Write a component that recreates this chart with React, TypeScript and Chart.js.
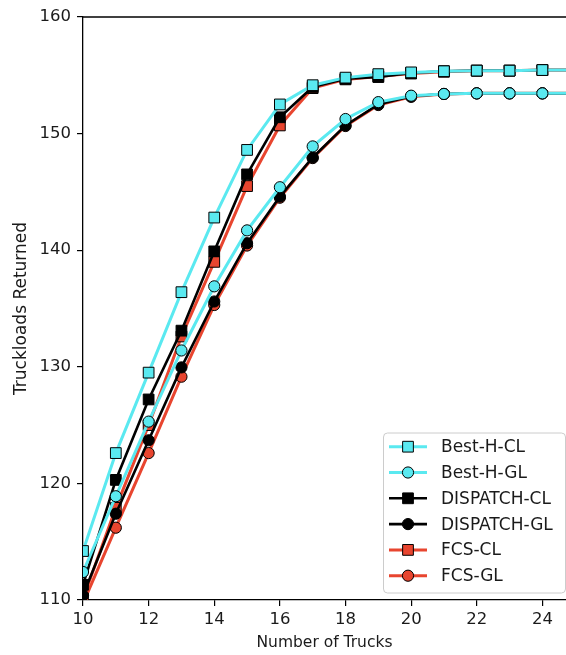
import React, { useEffect, useRef } from 'react';
import { Chart, registerables } from 'chart.js';

Chart.register(...registerables);

// ---- data ----
const trucks = [10, 11, 12, 13, 14, 15, 16, 17, 18, 19, 20, 21, 22, 23, 24, 25];
const bestHCL = [114.2, 122.6, 129.5, 136.4, 142.8, 148.6, 152.5, 154.15, 154.8, 155.1, 155.25, 155.35, 155.4, 155.4, 155.45, 155.45];
const bestHGL = [112.4, 118.9, 125.3, 131.4, 136.9, 141.7, 145.4, 148.9, 151.25, 152.7, 153.25, 153.4, 153.45, 153.45, 153.45, 153.45];
const dispatchCL = [111.3, 120.3, 127.2, 133.1, 139.9, 146.5, 151.4, 154.0, 154.7, 154.85, 155.2, 155.35, 155.4, 155.4, 155.45, 155.45];
const dispatchGL = [110.4, 117.4, 123.7, 129.95, 135.6, 140.6, 144.6, 147.95, 150.7, 152.5, 153.2, 153.4, 153.45, 153.45, 153.45, 153.45];
const fcsCL = [110.1, 117.9, 125.0, 132.6, 139.0, 145.5, 150.7, 153.9, 154.65, 154.9, 155.15, 155.3, 155.4, 155.4, 155.45, 155.45];
const fcsGL = [109.7, 116.2, 122.6, 129.15, 135.3, 140.4, 144.5, 147.9, 150.65, 152.45, 153.15, 153.4, 153.45, 153.45, 153.45, 153.45];
const seriesNames = ['Best-H-CL', 'Best-H-GL', 'DISPATCH-CL', 'DISPATCH-GL', 'FCS-CL', 'FCS-GL'];
const xTitle = 'Number of Trucks';
const yTitle = 'Truckloads Returned';

const CYAN = '#5ae9f0';
const BLACK = '#000000';
const RED = '#e8452f';
const FONT = '"DejaVu Sans", "Liberation Sans", sans-serif';

type Spec = { values: number[]; color: string; style: 'rect' | 'circle'; order: number; width: number };
const specs: Spec[] = [
  { values: bestHCL, color: CYAN, style: 'rect', order: 1, width: 3 },
  { values: bestHGL, color: CYAN, style: 'circle', order: 1, width: 3 },
  { values: dispatchCL, color: BLACK, style: 'rect', order: 2, width: 2.6 },
  { values: dispatchGL, color: BLACK, style: 'circle', order: 2, width: 2.6 },
  { values: fcsCL, color: RED, style: 'rect', order: 3, width: 3 },
  { values: fcsGL, color: RED, style: 'circle', order: 3, width: 3 },
];

const RECT_R = 7.6;
const CIRC_R = 5.6;

function drawMarker(ctx: CanvasRenderingContext2D, style: string, x: number, y: number, fill: string) {
  ctx.save();
  ctx.beginPath();
  if (style === 'rect') {
    const s = Math.SQRT1_2 * RECT_R;
    ctx.rect(x - s, y - s, 2 * s, 2 * s);
  } else {
    ctx.arc(x, y, CIRC_R, 0, Math.PI * 2);
  }
  ctx.fillStyle = fill;
  ctx.fill();
  ctx.lineWidth = 1;
  ctx.strokeStyle = '#000';
  ctx.stroke();
  ctx.restore();
}

const framePlugin = {
  id: 'frameAndLegend',
  afterDraw(chart: any) {
    const ctx: CanvasRenderingContext2D = chart.ctx;
    const { left, right, top } = chart.chartArea;
    // top spine
    ctx.save();
    ctx.strokeStyle = '#000';
    ctx.lineWidth = 1.3;
    ctx.beginPath();
    ctx.moveTo(left, top);
    ctx.lineTo(right, top);
    ctx.stroke();
    ctx.restore();

    // legend box
    const bx = 383.5, by = 433, bw = 182, bh = 160, r = 4;
    ctx.save();
    ctx.beginPath();
    ctx.moveTo(bx + r, by);
    ctx.lineTo(bx + bw - r, by);
    ctx.arcTo(bx + bw, by, bx + bw, by + r, r);
    ctx.lineTo(bx + bw, by + bh - r);
    ctx.arcTo(bx + bw, by + bh, bx + bw - r, by + bh, r);
    ctx.lineTo(bx + r, by + bh);
    ctx.arcTo(bx, by + bh, bx, by + bh - r, r);
    ctx.lineTo(bx, by + r);
    ctx.arcTo(bx, by, bx + r, by, r);
    ctx.closePath();
    ctx.fillStyle = 'rgba(255,255,255,0.85)';
    ctx.fill();
    ctx.strokeStyle = '#cccccc';
    ctx.lineWidth = 1;
    ctx.stroke();
    ctx.restore();

    specs.forEach((s, i) => {
      const cy = 446.7 + i * 25.8;
      ctx.save();
      ctx.strokeStyle = s.color;
      ctx.lineWidth = s.width;
      ctx.beginPath();
      ctx.moveTo(389, cy);
      ctx.lineTo(427, cy);
      ctx.stroke();
      ctx.restore();
      drawMarker(ctx, s.style, 408, cy, s.color);
      ctx.save();
      ctx.fillStyle = '#1a1a1a';
      ctx.font = `17px ${FONT}`;
      ctx.textBaseline = 'middle';
      ctx.textAlign = 'left';
      ctx.fillText(seriesNames[i], 441, cy + 1);
      ctx.restore();
    });
  },
};

export default function App() {
  const ref = useRef<HTMLCanvasElement | null>(null);

  useEffect(() => {
    document.body.style.margin = '0';
    const canvas = ref.current;
    if (!canvas) return;
    const chart = new Chart(canvas, {
      type: 'line',
      data: {
        datasets: specs.map((s, i) => ({
          label: seriesNames[i],
          data: trucks.map((x, j) => ({ x, y: s.values[j] })),
          borderColor: s.color,
          backgroundColor: s.color,
          borderWidth: s.width,
          pointStyle: s.style,
          pointRadius: s.style === 'rect' ? RECT_R : CIRC_R,
          pointHoverRadius: s.style === 'rect' ? RECT_R : CIRC_R,
          pointBackgroundColor: s.color,
          pointBorderColor: '#000',
          pointBorderWidth: 1,
          tension: 0,
          fill: false,
          order: s.order,
        })),
      },
      options: {
        animation: false,
        responsive: false,
        devicePixelRatio: 1,
        layout: { autoPadding: false, padding: { top: 17, left: 0, right: 0, bottom: 0 } },
        plugins: {
          legend: { display: false },
          tooltip: { enabled: false },
        },
        scales: {
          x: {
            type: 'linear',
            min: 10,
            max: 24.72,
            grid: { display: true, drawOnChartArea: false, drawTicks: true, tickLength: 6, color: '#000', lineWidth: 1.2 },
            border: { display: true, color: '#000', width: 1.3 },
            ticks: {
              stepSize: 2,
              includeBounds: false,
              padding: 4,
              color: '#1a1a1a',
              font: { family: FONT, size: 16.5 },
              maxRotation: 0,
            },
            title: {
              display: true,
              text: xTitle,
              color: '#1a1a1a',
              font: { family: FONT, size: 15.5 },
              padding: { top: 0, bottom: 3 },
            },
            afterFit: (s: any) => { s.height = 55; s.paddingLeft = 0; s.paddingRight = 0; },
          },
          y: {
            type: 'linear',
            min: 110,
            max: 160,
            grid: { display: true, drawOnChartArea: false, drawTicks: true, tickLength: 6, color: '#000', lineWidth: 1.2 },
            border: { display: true, color: '#000', width: 1.3 },
            ticks: {
              stepSize: 10,
              padding: 6,
              color: '#1a1a1a',
              font: { family: FONT, size: 16.5 },
            },
            title: {
              display: true,
              text: yTitle,
              color: '#1a1a1a',
              font: { family: FONT, size: 17 },
              padding: { top: 11, bottom: 0 },
            },
            afterFit: (s: any) => { s.width = 83; },
          },
        },
      },
      plugins: [framePlugin],
    });
    return () => chart.destroy();
  }, []);

  return (
    <div style={{ width: 566, height: 655, background: '#fff' }}>
      <canvas ref={ref} width={566} height={655} style={{ display: 'block', width: 566, height: 655 }} />
    </div>
  );
}
